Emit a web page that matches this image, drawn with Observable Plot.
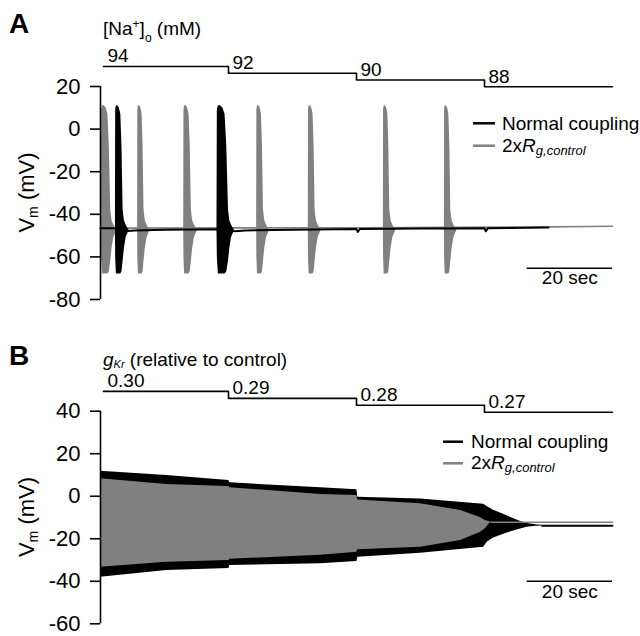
<!DOCTYPE html>
<html><head><meta charset="utf-8">
<script src="https://cdn.jsdelivr.net/npm/d3@7"></script>
<script src="https://cdn.jsdelivr.net/npm/@observablehq/plot@0.6"></script>
<style>
body{margin:0;background:#fff;}
#chart{width:640px;height:636px;position:relative;}
#chart svg{display:block;overflow:visible;}
</style></head><body><div id="chart"></div>
<script>
// ---------- data ----------
const naStepTimes = [0.7, 30, 60, 90];
const naValues = [94, 92, 90, 88];
const gkrStepTimes = [0.7, 30, 60, 90];
const gkrValues = [0.30, 0.29, 0.28, 0.27];
const traceEnd = 120;
const yTicksA = [20, 0, -20, -40, -60, -80];
const yTicksB = [40, 20, 0, -20, -40, -60];
const legendLabels = ["Normal coupling", "2x", "R", "g,control"];
const scaleBarStart = 100;
const scaleBarEnd = 120;
const scaleBarLabel = "20 sec";
const scaleBarVmA = -65.3;
const scaleBarVmB = -40;

// Panel A: burst onsets (s) and core durations (s)
const grayBurstStarts = [0.2, 8.7, 19.5, 36.6, 48.7, 66.3, 80.6];
const grayBurstCore = [2.2, 1.5, 1.8, 1.6, 1.6, 1.5, 1.5];
const blackBurstStarts = [3.5, 27.3];
const blackBurstCore = [1.8, 2.7];
// burst envelope template (fraction of core, then seconds after core)
const burstCoreF = [0, 0.03, 0.12, 0.3, 0.5, 0.7, 0.85, 1.0];
const burstCoreU = [-47, 9, 11, 11, 10, 7, -8, -38];
const burstCoreL = [-47, -60, -68, -68, -68, -68, -67, -62];
const burstTailDt = [0.3, 0.7, 1.1, 1.4];
const burstTailU = [-43, -45, -46.5, -47.3];
const burstTailL = [-56, -51, -49, -47.7];
// Panel A baselines
const blackBaseT = [0, 3.5, 5.6, 8, 15, 27.3, 31.4, 34, 45, 60, 60.3, 60.8, 75, 90, 90.3, 90.8, 105];
const blackBaseV = [-46.6, -46.6, -47.9, -47.6, -47.3, -47.0, -47.9, -47.6, -47.2, -46.9, -48.3, -46.9, -46.7, -46.5, -48.0, -46.5, -46.2];
const grayBaseT = [0, 60, 100, 120];
const grayBaseV = [-46.5, -46.3, -46.0, -45.6];

// Panel B envelopes
const bBlackT = [0, 15.5, 30.1, 30.3, 51.6, 60.1, 60.3, 75, 89.8, 90.7, 92, 95, 98, 100, 102, 103.5];
const bBlackU = [11.8, 9.7, 7.4, 6.3, 4.0, 3.0, -0.5, -1.3, -3.8, -5.0, -6.5, -9.0, -11.5, -12.8, -13.4, -13.7];
const bBlackL = [-38.1, -34.9, -34.0, -32.6, -31.8, -30.7, -28.7, -26.8, -24.0, -21.5, -19.8, -17.5, -15.6, -14.6, -14.1, -14.0];
const bBlackTailT = [103.5, 120];
const bBlackTailV = [-13.85, -13.85];
const bGrayT = [0, 15.5, 30.1, 30.3, 51.6, 60.1, 60.3, 75, 84.4, 89, 90.2, 91.4];
const bGrayU = [8.2, 5.5, 4.6, 4.0, 0.8, 0.3, -1.8, -3.5, -6.7, -10, -11.4, -12.1];
const bGrayL = [-33.4, -31.0, -30.2, -29.6, -27.8, -26.3, -25.2, -24.0, -20.8, -17, -15.3, -12.4];
const bGrayTailT = [91.4, 120];
const bGrayTailV = [-12.2, -12.2];

// ---------- helpers ----------
const FONT = "'Liberation Sans', Arial, Helvetica, sans-serif";
const GRAY = "#808080";
const zip = (ts, vs) => ts.map((t, i) => ({t, v: vs[i]}));
const zip3 = (ts, us, ls) => ts.map((t, i) => ({t, u: us[i], l: ls[i]}));
function burstRows(starts, cores, prefix) {
  const rows = [];
  starts.forEach((s, i) => {
    const C = cores[i];
    burstCoreF.forEach((f, j) => rows.push({id: prefix + i, t: s + f * C, u: burstCoreU[j], l: burstCoreL[j]}));
    burstTailDt.forEach((dt, j) => rows.push({id: prefix + i, t: s + C + dt, u: burstTailU[j], l: burstTailL[j]}));
  });
  return rows;
}
function stepRows(times, values) {
  const r = times.map((t, i) => ({t, v: values[i]}));
  r.push({t: traceEnd, v: values[values.length - 1]});
  return r;
}
function addText(svg, x, y, parts, size, attrs = {}) {
  const t = svg.append("text").attr("x", x).attr("y", y)
    .attr("font-family", FONT).attr("font-size", size).attr("fill", "black")
    .attr("text-anchor", "start");
  for (const k in attrs) t.attr(k, attrs[k]);
  parts.forEach(p => {
    const s = t.append("tspan").text(p.text);
    if (p.size) s.attr("font-size", p.size);
    if (p.shift) s.attr("baseline-shift", p.shift);
    if (p.italic) s.attr("font-style", "italic");
  });
  return t;
}
function addLegend(svg, x1, x2, xt, y1, y2) {
  svg.append("line").attr("x1", x1).attr("x2", x2).attr("y1", y1).attr("y2", y1)
    .attr("stroke", "black").attr("stroke-width", 2.5);
  svg.append("line").attr("x1", x1).attr("x2", x2).attr("y1", y2).attr("y2", y2)
    .attr("stroke", GRAY).attr("stroke-width", 2.5);
  addText(svg, xt, y1 + 6.5, [{text: legendLabels[0]}], 19);
  addText(svg, xt, y2 + 6, [{text: legendLabels[1]}, {text: legendLabels[2], italic: true},
    {text: legendLabels[3], italic: true, size: 13, shift: "-25%"}], 19);
}
function yLabel(svg, x, y) {
  addText(svg, 0, 0, [{text: "V"}, {text: "m", size: 14, shift: "-25%"}, {text: " (mV)"}], 22,
    {"text-anchor": "middle", transform: `translate(${x},${y}) rotate(-90)`});
}

const common = {
  width: 640, height: 318, marginLeft: 100, marginRight: 28,
  x: {domain: [0, traceEnd], axis: null},
  style: {fontFamily: FONT, fontSize: "22px", color: "black", background: "white", overflow: "visible"}
};

// ---------- Panel A ----------
const naY = v => 19.86 + (v - 88) * 1.59;
const naRows = stepRows(naStepTimes, naValues);
const plotA = Plot.plot({
  ...common,
  marginTop: 86, marginBottom: 19,
  y: {domain: [-80, 20]},
  marks: [
    Plot.lineY(naRows, {x: "t", y: d => naY(d.v), curve: "step-after", stroke: "black", strokeWidth: 1.6}),
    Plot.text(naRows.slice(0, -1), {x: "t", y: d => naY(d.v), text: d => String(d.v), dx: 4, dy: -4,
      textAnchor: "start", lineAnchor: "bottom", fontSize: 19}),
    Plot.lineY(zip(grayBaseT, grayBaseV), {x: "t", y: "v", stroke: GRAY, strokeWidth: 1.6}),
    Plot.areaY(burstRows(grayBurstStarts, grayBurstCore, "g"), {x: "t", y1: "l", y2: "u", z: "id", fill: GRAY}),
    Plot.lineY(zip(blackBaseT, blackBaseV), {x: "t", y: "v", stroke: "black", strokeWidth: 2}),
    Plot.areaY(burstRows(blackBurstStarts, blackBurstCore, "b"), {x: "t", y1: "l", y2: "u", z: "id", fill: "black"}),
    Plot.axisY(yTicksA, {tickSize: 10, tickPadding: 10, strokeWidth: 1.6, tickFormat: d => String(d), label: null, fontSize: 22}),
    Plot.ruleX([0], {y1: -80, y2: 20, strokeWidth: 1.6}),
    Plot.ruleY([scaleBarVmA], {x1: scaleBarStart, x2: scaleBarEnd, strokeWidth: 1.6}),
    Plot.text([scaleBarLabel], {x: (scaleBarStart + scaleBarEnd) / 2, y: scaleBarVmA, text: d => d, dy: 15.6,
      lineAnchor: "bottom", fontSize: 19})
  ]
});

// ---------- Panel B ----------
const gY = g => 39.5 + (g - 0.27) * 327;
const gRows = stepRows(gkrStepTimes, gkrValues);
const plotB = Plot.plot({
  ...common,
  marginTop: 92.7, marginBottom: 12.7,
  y: {domain: [-60, 40]},
  marks: [
    Plot.lineY(gRows, {x: "t", y: d => gY(d.v), curve: "step-after", stroke: "black", strokeWidth: 1.6}),
    Plot.text(gRows.slice(0, -1), {x: "t", y: d => gY(d.v), text: d => d.v.toFixed(2), dx: 4, dy: -4,
      textAnchor: "start", lineAnchor: "bottom", fontSize: 19}),
    Plot.areaY(zip3(bBlackT, bBlackU, bBlackL), {x: "t", y1: "l", y2: "u", fill: "black"}),
    Plot.lineY(zip(bBlackTailT, bBlackTailV), {x: "t", y: "v", stroke: "black", strokeWidth: 2}),
    Plot.areaY(zip3(bGrayT, bGrayU, bGrayL), {x: "t", y1: "l", y2: "u", fill: GRAY}),
    Plot.lineY(zip(bGrayTailT, bGrayTailV), {x: "t", y: "v", stroke: GRAY, strokeWidth: 1.6}),
    Plot.axisY(yTicksB, {tickSize: 10, tickPadding: 10, strokeWidth: 1.6, tickFormat: d => String(d), label: null, fontSize: 22}),
    Plot.ruleX([0], {y1: -60, y2: 40, strokeWidth: 1.6}),
    Plot.ruleY([scaleBarVmB], {x1: scaleBarStart, x2: scaleBarEnd, strokeWidth: 1.6}),
    Plot.text([scaleBarLabel], {x: (scaleBarStart + scaleBarEnd) / 2, y: scaleBarVmB, text: d => d, dy: 16.4,
      lineAnchor: "bottom", fontSize: 19})
  ]
});

const chart = document.getElementById("chart");
chart.appendChild(plotA);
chart.appendChild(plotB);

// ---------- annotations ----------
const sA = d3.select(plotA);
addText(sA, 9, 33.3, [{text: "A"}], 28, {"font-weight": "bold"});
addText(sA, 103, 35, [{text: "[Na"}, {text: "+", size: 12, shift: "super"}, {text: "]"},
  {text: "o", size: 12, shift: "sub"}, {text: " (mM)"}], 19);
addLegend(sA, 473, 495, 502, 123.3, 145.7);
yLabel(sA, 34, 192.5);

const sB = d3.select(plotB);
addText(sB, 9, 47, [{text: "B"}], 28, {"font-weight": "bold"});
addText(sB, 103, 48, [{text: "g", italic: true}, {text: "Kr", italic: true, size: 11, shift: "-15%"},
  {text: " (relative to control)"}], 19);
addLegend(sB, 443, 463, 471, 123.7, 145.3);
yLabel(sB, 34, 199);
</script></body></html>
